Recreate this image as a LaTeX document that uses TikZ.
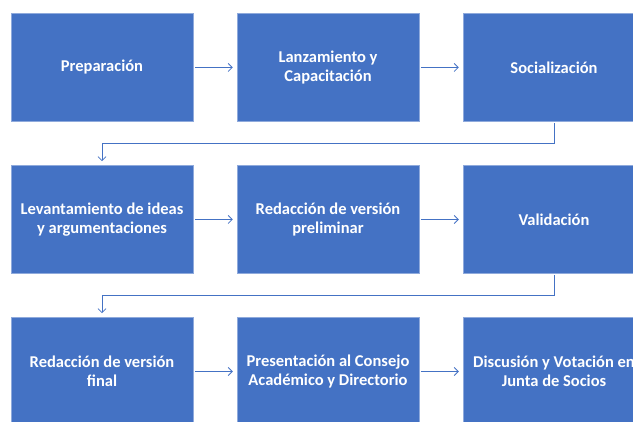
\documentclass[tikz,border=0pt]{standalone}
\usepackage{fontspec}
\setmainfont{Carlito}
\usetikzlibrary{positioning,arrows.meta}
\definecolor{officeblue}{HTML}{4472C4}

\begin{document}
\begin{tikzpicture}[x=1pt,y=1pt,node distance=152pt and 226pt,on grid,
   stage/.style={rectangle,fill=officeblue,draw=officeblue!60!white,line width=0.5pt,
     minimum width=182pt,minimum height=108pt,align=center,text=white,
     font=\fontsize{16.5}{18.5}\selectfont\bfseries},
   flow/.style={draw=officeblue,line width=0.8pt,-{Straight Barb[length=4pt,width=8pt]},
     shorten <=1.5pt,shorten >=4pt}]
   \useasboundingbox (0,0) rectangle (633,-422);
   \clip (0,0) rectangle (633,-422);
   \node[stage] (prep) at (102,-67.5) {Preparación};
   \node[stage] (lanz) [right=of prep] {Lanzamiento y\\Capacitación};
   \node[stage] (soci) [right=of lanz] {Socialización};
   \node[stage] (lev)  [below=of prep] {Levantamiento de ideas\\y argumentaciones};
   \node[stage] (prel) [right=of lev]  {Redacción de versión\\preliminar};
   \node[stage] (val)  [right=of prel] {Validación};
   \node[stage] (fin)  [below=of lev]  {Redacción de versión\\final};
   \node[stage] (pres) [right=of fin]  {Presentación al Consejo\\Académico y Directorio};
   \node[stage] (disc) [right=of pres] {Discusión y Votación en\\Junta de Socios};
   \path[flow]
    (prep) edge (lanz)
    (lanz) edge (soci)
    (lev)  edge (prel)
    (prel) edge (val)
    (fin)  edge (pres)
    (pres) edge (disc);
   \draw[flow] (soci.south) -- ++(0,-22) -| (lev.north);
   \draw[flow] (val.south) -- ++(0,-22) -| (fin.north);
\end{tikzpicture}
\end{document}
